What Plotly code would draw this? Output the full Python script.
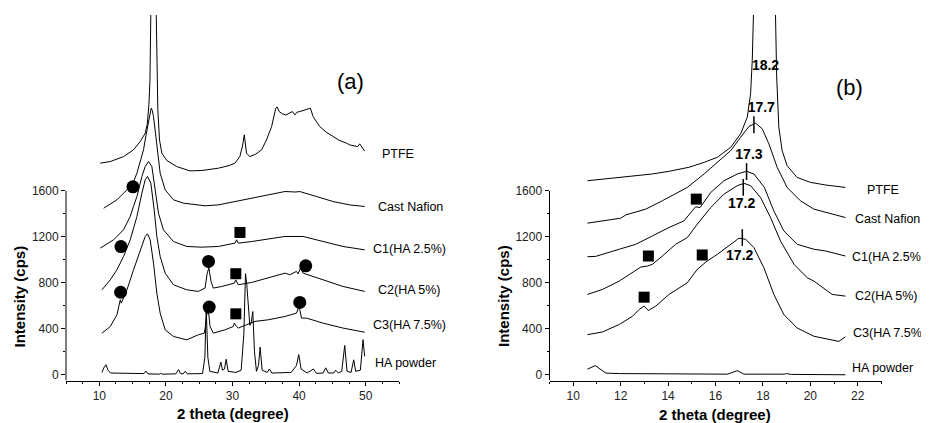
import plotly.graph_objects as go

# browser page offset (default body margin) is compensated in the geometry helpers below
PAGE_OFF = 8
WIN_W, WIN_H = 929, 423
W, H = WIN_W - PAGE_OFF, WIN_H - PAGE_OFF

# ---------------- Panel (a) data ----------------
a_ptfe_x = [10.15, 11.65, 13.64, 15.14, 16.14, 16.9, 17.2, 17.45, 17.6, 17.72, 17.79, 18.17, 18.54, 18.64, 18.79,
            19.04, 19.39, 20.14, 21.64, 23.6, 25.4, 27.87, 29.5, 30.37, 31.1, 31.5, 31.77, 32.1, 32.6, 33.5,
            34.37, 35.1, 35.87, 36.5, 36.7, 37.0, 37.5, 38.0, 38.6, 39.0, 39.36, 39.7, 40.1, 40.8, 41.36,
            41.7, 42.1, 43.1, 44.1, 45.1, 46.0, 47.1, 47.6, 48.4, 48.8, 49.1, 49.5, 49.85]
a_ptfe_y = [1841, 1855, 1898, 1957, 2029, 2102, 2180, 2350, 2550, 2800, 3174, 5000, 3174, 2739, 2304,
            2043, 1928, 1864, 1811, 1774, 1777, 1797, 1820, 1841, 1898, 1990, 2087, 1928, 1898, 1920,
            1957, 2043, 2159, 2319, 2330, 2290, 2270, 2260, 2276, 2290, 2261, 2285, 2290, 2300, 2310,
            2319, 2246, 2159, 2110, 2073, 2040, 2015, 2000, 1990, 1985, 2009, 1970, 1945]

a_naf_x = [10.65, 12.65, 14.15, 15.15, 15.65, 16.2, 16.64, 17.0, 17.39, 17.65, 17.79, 17.95, 18.14, 18.4,
           18.64, 19.14, 19.89, 21.14, 22.63, 24.38, 25.88, 27.87, 30.37, 32.88, 35.36, 37.87, 39.5,
           40.1, 42.6, 45.1, 47.6, 49.85]
a_naf_y = [1449, 1522, 1609, 1680, 1754, 1860, 1957, 2080, 2217, 2300, 2319, 2300, 2246, 2120,
           1985, 1754, 1609, 1522, 1493, 1478, 1470, 1478, 1507, 1536, 1565, 1594, 1590,
           1594, 1551, 1507, 1478, 1464]

a_c1_x = [10.15, 12.14, 13.64, 14.64, 15.1, 15.65, 16.4, 16.89, 17.39, 17.89, 18.39, 18.88, 19.63, 21.14,
          23.13, 25.4, 27.87, 30.37, 30.62, 30.85, 32.88, 35.36, 37.87, 40.6, 43.6, 46.6, 49.85]
a_c1_y = [1102, 1174, 1261, 1377, 1460, 1551, 1725, 1812, 1855, 1812, 1609, 1406, 1261, 1159,
          1116, 1110, 1116, 1145, 1174, 1145, 1159, 1180, 1203, 1203, 1159, 1116, 1087]

a_c2_x = [10.4, 11.65, 12.65, 13.64, 14.64, 15.65, 16.4, 16.89, 17.24, 17.74, 18.24, 18.64, 19.14, 19.89,
          21.14, 23.13, 24.88, 25.88, 26.2, 26.45, 26.78, 27.12, 28.38, 30.27, 30.48, 30.87, 32.88, 35.36,
          37.87, 38.6, 39.6, 39.85, 40.2, 40.6, 43.6, 46.6, 49.85]
a_c2_y = [739, 826, 913, 1029, 1174, 1377, 1580, 1696, 1725, 1667, 1435, 1203, 1029, 884,
          783, 739, 725, 754, 884, 928, 811, 754, 768, 797, 826, 783, 803, 841,
          884, 870, 899, 878, 928, 884, 826, 768, 725]

a_c3_x = [10.4, 11.65, 12.65, 13.04, 13.15, 13.3, 14.15, 15.14, 16.14, 16.89, 17.24, 17.64, 18.14, 18.64,
          19.14, 19.89, 21.14, 23.13, 24.88, 25.78, 26.0, 26.2, 26.45, 26.63, 27.12, 28.88, 30.12, 30.27,
          30.6, 30.87, 32.1, 33.37, 35.36, 37.87, 39.6, 40.0, 40.36, 41.1, 43.6, 46.6, 49.85]
a_c3_y = [362, 420, 522, 609, 652, 623, 739, 913, 1087, 1203, 1226, 1174, 971, 710,
          536, 391, 333, 304, 348, 362, 450, 560, 520, 420, 362, 391, 420, 449,
          420, 406, 435, 464, 478, 507, 536, 594, 493, 493, 449, 406, 370]

a_ha_x = [10.4, 10.65, 11.0, 11.3, 11.7, 13, 15, 16.7, 17.0, 17.3, 19, 19.2, 19.5, 21.5, 21.9, 22.2, 22.6,
          22.9, 23.2, 25.5, 25.85, 26.05, 26.3, 26.6, 27.8, 28.25, 28.5, 28.8, 29.05, 29.35, 30.5, 31.3,
          31.7, 31.95, 32.15, 32.35, 32.6, 32.8, 33.05, 33.3, 33.6, 33.9, 34.15, 34.45, 35.2, 35.55,
          35.9, 38.8, 39.35, 39.6, 39.95, 40.3, 41.2, 42.15, 42.6, 43.6, 44.0, 44.4, 45.2, 45.5, 45.9,
          46.4, 46.85, 47.2, 47.8, 48.2, 48.5, 49.2, 49.6, 49.85]
a_ha_y = [20, 58, 87, 40, 15, 12, 10, 10, 32, 8, 5, 12, 5, 8, 45, 10, 8,
          30, 8, 10, 150, 580, 150, 30, 15, 110, 40, 50, 135, 30, 20, 40,
          350, 880, 780, 650, 430, 450, 550, 200, 30, 80, 240, 40, 20, 50,
          15, 20, 60, 80, 175, 50, 15, 50, 12, 15, 60, 15, 15, 40, 15,
          30, 255, 30, 20, 130, 30, 40, 305, 160]

a_circle_x = [15.05, 13.25, 26.4, 41.0, 13.2, 26.5, 40.1]
a_circle_y = [1635, 1115, 986, 948, 718, 589, 629]
a_square_x = [31.12, 30.5, 30.5]
a_square_y = [1238, 879, 530]

# ---------------- Panel (b) data ----------------
b_ptfe_x = [10.6, 11.94, 13.34, 14.04, 14.88, 15.52, 16.08, 16.64, 17.06, 17.34, 17.48, 17.55, 17.6, 18.07,
            18.53, 18.58, 18.67, 18.81, 19.02, 19.44, 20.0, 20.64, 21.48]
b_ptfe_y = [1688, 1717, 1747, 1770, 1805, 1848, 1892, 1979, 2096, 2241, 2446, 2736, 3130, 5000,
            3130, 2591, 2154, 1950, 1819, 1717, 1674, 1651, 1630]

b_naf_x = [10.6, 12.0, 12.22, 13.06, 13.76, 14.32, 14.81, 15.52, 16.08, 16.64, 17.06, 17.41, 17.69, 17.97,
           18.25, 18.6, 19.02, 19.58, 20.15, 20.64, 21.48]
b_naf_y = [1319, 1362, 1391, 1441, 1514, 1572, 1630, 1747, 1848, 1950, 2066, 2160, 2189, 2140,
           2009, 1805, 1630, 1514, 1441, 1412, 1368]

b_c1_x = [10.6, 10.95, 11.94, 12.64, 13.34, 14.04, 14.67, 15.0, 15.16, 15.35, 15.8, 16.36, 16.92, 17.31,
          17.62, 18.06, 18.46, 18.88, 19.44, 20.15, 20.64, 21.48]
b_c1_y = [1027, 1030, 1092, 1135, 1208, 1281, 1339, 1420, 1461, 1455, 1586, 1688, 1747, 1770,
          1747, 1630, 1426, 1252, 1135, 1092, 1077, 1033]

b_c2_x = [10.6, 11.23, 11.94, 12.36, 12.85, 13.13, 13.34, 13.76, 14.32, 14.81, 15.23, 15.8, 16.36, 16.92,
          17.2, 17.48, 17.9, 18.32, 18.74, 19.31, 19.87, 20.15, 20.92, 21.48]
b_c2_y = [699, 742, 815, 873, 937, 946, 961, 1033, 1135, 1193, 1310, 1455, 1572, 1645,
          1665, 1645, 1542, 1368, 1164, 961, 844, 815, 699, 684]

b_c3_x = [10.6, 11.23, 11.94, 12.5, 12.78, 12.99, 13.17, 13.48, 14.04, 14.81, 15.23, 15.65, 16.08, 16.64,
          16.99, 17.27, 17.62, 18.04, 18.46, 18.88, 19.44, 20.15, 20.8, 21.2, 21.48]
b_c3_y = [349, 372, 437, 509, 568, 597, 559, 597, 699, 800, 917, 990, 1048, 1135,
          1188, 1179, 1106, 931, 699, 524, 407, 335, 305, 290, 330]

b_ha_x = [10.6, 10.93, 11.38, 12.0, 14.0, 16.5, 16.92, 17.2, 18.9, 19.0, 19.2, 20.0, 21.48]
b_ha_y = [49, 79, 14, 10, 8, 5, 35, 5, 5, 10, 3, 0, 0]

b_square_x = [15.19, 13.17, 15.44, 12.99]
b_square_y = [1528, 1033, 1042, 675]

b_peak_x = [17.62, 17.31, 17.17, 17.13]
b_peak_y = [2175, 1768, 1630, 1193]
b_label_x = [18.11, 17.93, 17.41, 17.1, 17.02]
b_label_y = [2678, 2314, 1907, 1479, 1033]
b_label_text = ["18.2", "17.7", "17.3", "17.2", "17.2"]

series_names = ["PTFE", "Cast Nafion", "C1(HA 2.5%)", "C2(HA 5%)", "C3(HA 7.5%)", "HA powder"]

y_tick_vals = [0, 400, 800, 1200, 1600]
y_minor_vals = [200, 600, 1000, 1400]
a_x_ticks = [10, 20, 30, 40, 50]
b_x_ticks = [10, 12, 14, 16, 18, 20, 22]

# ---------------- layout geometry (window pixels) ----------------
FONT = "Arial, Liberation Sans, sans-serif"
a_left, a_right = 66, 399
b_left, b_right = 549.5, 881.5
p_top, p_bot = 15, 380.5
Y_RANGE = [-50, 3130]

def px(x):
    return (x - PAGE_OFF) / W

def py(y):
    return 1 - (y - PAGE_OFF) / H

fig = go.Figure()

def add_line(x, y, xa, ya):
    fig.add_trace(go.Scatter(x=x, y=y, mode="lines", xaxis=xa, yaxis=ya,
                             line=dict(color="black", width=1), showlegend=False, hoverinfo="skip"))

for xs, ys in [(a_ptfe_x, a_ptfe_y), (a_naf_x, a_naf_y), (a_c1_x, a_c1_y), (a_c2_x, a_c2_y),
               (a_c3_x, a_c3_y), (a_ha_x, a_ha_y)]:
    add_line(xs, ys, "x", "y")
for xs, ys in [(b_ptfe_x, b_ptfe_y), (b_naf_x, b_naf_y), (b_c1_x, b_c1_y), (b_c2_x, b_c2_y),
               (b_c3_x, b_c3_y), (b_ha_x, b_ha_y)]:
    add_line(xs, ys, "x2", "y2")

fig.add_trace(go.Scatter(x=a_circle_x, y=a_circle_y, mode="markers", xaxis="x", yaxis="y",
                         marker=dict(symbol="circle", size=13, color="black"), showlegend=False,
                         hoverinfo="skip", cliponaxis=False))
fig.add_trace(go.Scatter(x=a_square_x, y=a_square_y, mode="markers", xaxis="x", yaxis="y",
                         marker=dict(symbol="square", size=11, color="black"), showlegend=False,
                         hoverinfo="skip", cliponaxis=False))
fig.add_trace(go.Scatter(x=b_square_x, y=b_square_y, mode="markers", xaxis="x2", yaxis="y2",
                         marker=dict(symbol="square", size=11, color="black"), showlegend=False,
                         hoverinfo="skip", cliponaxis=False))
fig.add_trace(go.Scatter(x=b_peak_x, y=b_peak_y, mode="markers", xaxis="x2", yaxis="y2",
                         marker=dict(symbol="line-ns", size=12, color="black",
                                     line=dict(color="black", width=1.5)),
                         showlegend=False, hoverinfo="skip", cliponaxis=False))
fig.add_trace(go.Scatter(x=b_label_x, y=b_label_y, mode="text", xaxis="x2", yaxis="y2",
                         text=b_label_text, textposition="middle center",
                         textfont=dict(family=FONT, size=14, color="black", weight="bold"),
                         showlegend=False, hoverinfo="skip", cliponaxis=False))

tickfont = dict(family=FONT, size=12, color="#222222")

def xaxis_cfg(domain, rng, ticks, minor_dtick, anchor):
    return dict(domain=domain, range=rng, anchor=anchor, showgrid=False, zeroline=False,
                showline=True, linecolor="black", linewidth=1,
                tickmode="array", tickvals=ticks, ticks="outside", ticklen=4, tickwidth=1,
                tickcolor="black", tickfont=tickfont,
                minor=dict(dtick=minor_dtick, tick0=0, ticks="outside", ticklen=2, tickcolor="black"))

def yaxis_cfg(anchor):
    return dict(domain=[py(p_bot), py(p_top)], range=Y_RANGE, anchor=anchor, showgrid=False,
                zeroline=False, showline=False, tickmode="array", tickvals=y_tick_vals,
                ticks="outside", ticklen=4, tickwidth=1, tickcolor="black", tickfont=tickfont,
                minor=dict(tickmode="array", tickvals=y_minor_vals, ticks="outside", ticklen=2,
                           tickcolor="black"))

fig.update_layout(
    width=W, height=H, margin=dict(l=0, r=0, t=0, b=0),
    paper_bgcolor="white", plot_bgcolor="white",
    xaxis=xaxis_cfg([px(a_left), px(a_right)], [5, 55], a_x_ticks, 2.5, "y"),
    yaxis=yaxis_cfg("x"),
    xaxis2=xaxis_cfg([px(b_left), px(b_right)], [9, 23], b_x_ticks, 1, "y2"),
    yaxis2=yaxis_cfg("x2"),
)

# partial y-axis lines (only up to 1600)
for xr, yr in [("x domain", "y"), ("x2 domain", "y2")]:
    fig.add_shape(type="line", xref=xr, yref=yr, x0=0, x1=0, y0=Y_RANGE[0], y1=y_tick_vals[-1],
                  line=dict(color="black", width=1))

ann = []
LAB_FONT = dict(family=FONT, size=12.5, color="black")
a_lab_pos = [(381, 154), (376.5, 207), (371.5, 249), (377, 290), (372, 325), (374, 363)]
b_lab_pos = [(865.5, 190), (854, 219.3), (851, 257.3), (854, 296), (852, 333.3), (850.5, 368)]
for name, (lx, ly) in zip(series_names, a_lab_pos):
    ann.append(dict(text=name, x=px(lx), y=py(ly), xref="paper", yref="paper", xanchor="left",
                    yanchor="middle", showarrow=False, font=LAB_FONT, borderpad=0))
for name, (lx, ly) in zip(series_names, b_lab_pos):
    ann.append(dict(text=name, x=px(lx), y=py(ly), xref="paper", yref="paper", xanchor="left",
                    yanchor="middle", showarrow=False, font=LAB_FONT, borderpad=0))

for t, (cx, cy) in [("(a)", (350, 82)), ("(b)", (849, 87))]:
    ann.append(dict(text=t, x=px(cx), y=py(cy), xref="paper", yref="paper", xanchor="center",
                    yanchor="middle", showarrow=False, font=dict(family=FONT, size=22, color="black")))

for cx, cy in [(233, 413), (715, 414)]:
    ann.append(dict(text="<b>2 theta (degree)</b>", x=px(cx), y=py(cy), xref="paper", yref="paper",
                    xanchor="center", yanchor="middle", showarrow=False,
                    font=dict(family=FONT, size=15, color="black")))
for cx, cy in [(18.5, 297), (503, 296)]:
    ann.append(dict(text="<b>Intensity (cps)</b>", x=px(cx), y=py(cy), xref="paper", yref="paper",
                    xanchor="center", yanchor="middle", textangle=-90, showarrow=False,
                    font=dict(family=FONT, size=15, color="black")))

fig.update_layout(annotations=ann)
fig.write_html("out.html")
